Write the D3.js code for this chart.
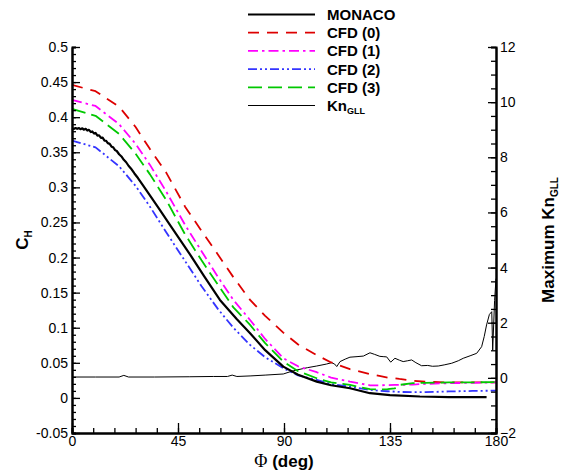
<!DOCTYPE html>
<html><head><meta charset="utf-8">
<script src="https://cdn.jsdelivr.net/npm/d3@7/dist/d3.min.js"></script>
<style>
html,body{margin:0;padding:0;background:#fff;}
svg{display:block;font-family:"Liberation Sans",Arial,sans-serif;}
</style></head>
<body><svg id="c" width="574" height="475"></svg>
<script>
// ---- data ----
const phiMonaco = [0,0.7,1.5,2.2,3,3.6,4.4,5,5.8,6.5,7.2,8,8.6,9.4,10,10.8,11.5,12.3,13,13.8,14.5,15.2,16,16.8,17.5,18.3,19,20,21,22,23,24,25,26.5,28,30,33,37,42,50,56,62.8,70,75.6,82,89.7,96,103.9,110,118,126.5,135,147.7,160,176];
const chMonaco  = [0.3840,0.3832,0.3846,0.3834,0.3845,0.3828,0.3841,0.3822,0.3834,0.3809,0.3819,0.3788,0.3797,0.3766,0.3775,0.3738,0.3742,0.3705,0.3708,0.3667,0.3664,0.3630,0.3620,0.3580,0.3571,0.3531,0.3518,0.3472,0.3440,0.3392,0.3358,0.3308,0.3270,0.3198,0.3133,0.3036,0.2890,0.2695,0.2445,0.205,0.174,0.1396,0.112,0.0922,0.068,0.0446,0.033,0.0232,0.018,0.0138,0.0067,0.004,0.002,0.0012,0.001];
const phiCFD = [0,10,20,27,33.1,40,48,55,62,68.5,75.6,82,89.7,96,103.9,110,118,126.5,131,134,137,139,144.7,150,160,170,180];
const chCFD0 = [0.446,0.437,0.415,0.386,0.3545,0.321,0.2725,0.238,0.204,0.172,0.1396,0.117,0.093,0.076,0.061,0.0505,0.041,0.034,0.031,0.029,0.028,0.027,0.0246,0.023,0.022,0.022,0.022];
const chCFD1 = [0.4245,0.416,0.390,0.362,0.332,0.294,0.2465,0.209,0.172,0.1396,0.111,0.084,0.0565,0.045,0.0366,0.029,0.0232,0.018,0.018,0.0182,0.0185,0.0185,0.019,0.020,0.021,0.0215,0.022];
const chCFD2 = [0.3666,0.357,0.330,0.302,0.2725,0.236,0.195,0.159,0.1265,0.100,0.0755,0.058,0.0423,0.032,0.0256,0.020,0.016,0.0114,0.010,0.0095,0.009,0.0085,0.0081,0.0083,0.0092,0.0099,0.0104];
const chCFD3 = [0.4117,0.402,0.376,0.348,0.3185,0.282,0.233,0.196,0.161,0.129,0.104,0.078,0.0517,0.038,0.028,0.022,0.0185,0.0124,0.0122,0.0124,0.0135,0.0185,0.021,0.0215,0.022,0.0222,0.0225];
const phiKn = [0,10,20,22,24,35,50,60,66,68,70,75.6,82,89.7,94,100,103.9,108,110.2,111.5,112.4,113.8,116,118,121,123.7,126.5,128.5,130.7,132.1,133.6,135.3,137.1,139,140.6,142.5,144.2,146,148.4,151,153,155.5,158,161.2,164,166.1,169,171.8,173.9,175,176,177.2,178.2,178.6,179.4,180];
const knGLL = [0.03,0.03,0.03,0.09,0.03,0.03,0.04,0.05,0.05,0.1,0.05,0.07,0.1,0.14,0.26,0.37,0.43,0.5,0.55,0.5,0.41,0.59,0.68,0.75,0.77,0.79,0.91,0.85,0.78,0.77,0.76,0.57,0.71,0.64,0.59,0.62,0.65,0.55,0.44,0.45,0.42,0.43,0.47,0.53,0.62,0.71,0.8,0.89,1.13,1.5,1.92,2.3,2.4,1.0,2.8,3.6];
const xTicks = [0,45,90,135,180];
const yTicks = [-0.05,0,0.05,0.1,0.15,0.2,0.25,0.3,0.35,0.4,0.45,0.5];
const yTickLabels = ["-0.05","0","0.05","0.1","0.15","0.2","0.25","0.3","0.35","0.4","0.45","0.5"];
const y2Ticks = [-2,0,2,4,6,8,10,12];
const legendNames = ["MONACO","CFD (0)","CFD (1)","CFD (2)","CFD (3)","Kn"];

// ---- layout ----
const L=72,R=496,T=47,B=433;
const svg=d3.select("#c");
const x=d3.scaleLinear().domain([0,180]).range([L,R]);
const y=d3.scaleLinear().domain([-0.05,0.5]).range([B,T]);
const y2=d3.scaleLinear().domain([-2,12]).range([B,T]);

const styles=[
 {c:"#000",w:2.2,d:null},
 {c:"#dd0000",w:1.8,d:"11,8"},
 {c:"#ff00ff",w:1.8,d:"10,4,2.5,4"},
 {c:"#3434ff",w:1.8,d:"9,3,2,3,2,3"},
 {c:"#00c800",w:1.8,d:"14,6"},
 {c:"#000",w:1,d:null}
];

const series=[
 [phiMonaco,chMonaco,y],[phiCFD,chCFD0,y],[phiCFD,chCFD1,y],[phiCFD,chCFD2,y],[phiCFD,chCFD3,y],[phiKn,knGLL,y2]
];
const drawOrder=[5,1,2,3,4,0];
drawOrder.forEach(k=>{
  const [xs,ys,sc]=series[k], s=styles[k];
  svg.append("path").attr("d",d3.line().x((d,i)=>x(xs[i])).y(d=>sc(d))(ys))
   .attr("fill","none").attr("stroke",s.c).attr("stroke-width",s.w)
   .attr("stroke-dasharray",s.d).attr("stroke-linejoin","round");
});

// ---- axes ----
function styleAxis(g){g.select(".domain").attr("stroke","#000").attr("stroke-width",2);
 g.selectAll(".tick line").attr("stroke","#000").attr("stroke-width",1.3);
 g.selectAll("text").attr("font-size",14).attr("fill","#000").attr("font-family","Liberation Sans, Arial, sans-serif");}
// minor
svg.append("g").attr("transform",`translate(0,${B})`).call(d3.axisBottom(x).tickValues(d3.range(0,181,9)).tickSize(-5).tickFormat("")).call(styleAxis);
svg.append("g").attr("transform",`translate(${L},0)`).call(d3.axisLeft(y).tickValues(d3.range(-5,51,1).map(v=>v/100)).tickSize(-4).tickFormat("")).call(styleAxis);
svg.append("g").attr("transform",`translate(${R},0)`).call(d3.axisRight(y2).tickValues(d3.range(-4,25,1).map(v=>v/2)).tickSize(-5).tickFormat("")).call(styleAxis);
// major
svg.append("g").attr("transform",`translate(0,${B})`).call(d3.axisBottom(x).tickValues(xTicks).tickSize(-10).tickSizeOuter(0).tickPadding(3).tickFormat(d3.format("d"))).call(styleAxis);
svg.append("g").attr("transform",`translate(${L},0)`).call(d3.axisLeft(y).tickValues(yTicks).tickSize(-8).tickSizeOuter(0).tickPadding(4).tickFormat((d,i)=>yTickLabels[i])).call(styleAxis);
svg.append("g").attr("transform",`translate(${R},0)`).call(d3.axisRight(y2).tickValues(y2Ticks).tickSize(-8).tickSizeOuter(0).tickPadding(4).tickFormat(d3.format("d"))).call(styleAxis);

// ---- titles ----
const xt=svg.append("text").attr("x",(L+R)/2).attr("y",467).attr("text-anchor","middle").attr("font-size",17).attr("font-weight","bold");
xt.append("tspan").attr("font-family","Liberation Serif, Times New Roman, serif").attr("font-weight","normal").attr("font-size",18).text("Φ");
xt.append("tspan").text(" (deg)");

const yt=svg.append("text").attr("transform",`translate(28,${(T+B)/2}) rotate(-90)`).attr("text-anchor","middle").attr("font-size",17).attr("font-weight","bold");
yt.append("tspan").text("C");
yt.append("tspan").attr("font-size",10).attr("dy",4).text("H");

const y2t=svg.append("text").attr("transform",`translate(554,${(T+B)/2}) rotate(-90)`).attr("text-anchor","middle").attr("font-size",17).attr("font-weight","bold");
y2t.append("tspan").text("Maximum Kn");
y2t.append("tspan").attr("font-size",10).attr("dy",4).text("GLL");

// ---- legend ----
legendNames.forEach((n,i)=>{
  const yy=14.5+18.2*i, s=styles[i];
  svg.append("line").attr("x1",248).attr("x2",315).attr("y1",yy).attr("y2",yy)
    .attr("stroke",s.c).attr("stroke-width",s.w).attr("stroke-dasharray",s.d);
  const t=svg.append("text").attr("x",327).attr("y",yy+5.5).attr("font-size",15).attr("font-weight","bold");
  t.append("tspan").text(n);
  if(i===5) t.append("tspan").attr("font-size",9).attr("dy",3).text("GLL");
});
</script></body></html>
